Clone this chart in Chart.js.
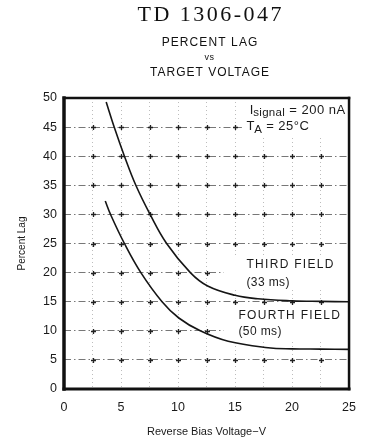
<!DOCTYPE html>
<html>
<head>
<meta charset="utf-8">
<script src="https://cdn.jsdelivr.net/npm/chart.js@4/dist/chart.umd.min.js"></script>
<style>
  html, body { margin: 0; padding: 0; background: #fff; }
  canvas { display: block; }
</style>
</head>
<body>
<canvas id="lag" width="367" height="443"></canvas>
<script>
// Text
const chartTitle = 'TD 1306-047';
const subtitleLines = ['PERCENT LAG', 'vs', 'TARGET VOLTAGE'];
const xAxisTitle = 'Reverse Bias Voltage\u2212V';
const yAxisTitle = 'Percent Lag';

// Percent lag against reverse bias voltage (V), one pair of arrays per field
const thirdFieldVolts  = [3.7, 4.4, 5.3, 6.3, 7.55, 9.0, 11.08, 12.6, 15.0, 17.0, 20.0, 22.5, 25.0];
const thirdFieldLag    = [49.3, 45, 40, 35, 30, 25, 20, 17.7, 16.1, 15.5, 15.15, 15.05, 15.0];
const fourthFieldVolts = [3.62, 4.08, 5.3, 6.74, 8.6, 10.07, 11.95, 14.4, 17.9, 20.0, 22.5, 25.0];
const fourthFieldLag   = [32.3, 30, 25, 20, 15, 12.2, 10, 8.2, 7.1, 6.9, 6.85, 6.8];

// Axis ranges and tick steps
const xRange = [0, 25];
const xGridStep = 2.5;
const xLabelStep = 5;
const yRange = [0, 50];
const yStep = 5;

const toPoints = (xs, ys) => xs.map((x, i) => ({ x, y: ys[i] }));

const SANS = '"Liberation Sans", Arial, sans-serif';

// Draws a run of text pieces (with optional subscript offsets)
function drawRuns(ctx, runs, x, y, align) {
  let total = 0;
  runs.forEach(r => {
    ctx.font = r.size + 'px ' + SANS;
    ctx.letterSpacing = (r.ls || 0) + 'px';
    r.w = ctx.measureText(r.t).width;
    total += r.w;
  });
  let cx = align === 'right' ? x - total : x;
  runs.forEach(r => {
    ctx.font = r.size + 'px ' + SANS;
    ctx.letterSpacing = (r.ls || 0) + 'px';
    ctx.fillText(r.t, cx, y + (r.dy || 0));
    cx += r.w;
  });
  ctx.letterSpacing = '0px';
}

// White panel behind a text block, given in axis units
function clearBox(chart, x0, x1, y0, y1) {
  const { ctx, scales: { x, y } } = chart;
  const l = x.getPixelForValue(x0), r = x.getPixelForValue(x1);
  const t = y.getPixelForValue(y1), b = y.getPixelForValue(y0);
  ctx.fillStyle = '#fff';
  ctx.fillRect(l, t, r - l, b - t);
}

const decorPlugin = {
  id: 'decor',
  beforeDatasetsDraw(chart) {
    const { ctx, scales: { x, y } } = chart;
    ctx.save();
    // "+" marks at interior grid intersections
    ctx.strokeStyle = '#222';
    ctx.lineWidth = 1.3;
    for (let xv = xRange[0] + xGridStep; xv < xRange[1] - 1e-6; xv += xGridStep) {
      for (let yv = yRange[0] + yStep; yv < yRange[1] - 1e-6; yv += yStep) {
        const px = Math.round(x.getPixelForValue(xv)) + 0.5;
        const py = Math.round(y.getPixelForValue(yv)) + 0.5;
        ctx.beginPath();
        ctx.moveTo(px - 2.5, py); ctx.lineTo(px + 2.5, py);
        ctx.moveTo(px, py - 2.5); ctx.lineTo(px, py + 2.5);
        ctx.stroke();
      }
    }
    // Grid is left blank under the text blocks
    clearBox(chart, 15.6, 25, 43.2, 50);
    clearBox(chart, 14.0, 25, 17.1, 23.0);
    clearBox(chart, 14.0, 25, 8.4, 14.3);
    ctx.restore();
  },
  afterDatasetsDraw(chart) {
    const { ctx, chartArea: a, scales: { x, y } } = chart;
    ctx.save();
    // Heavy plot frame
    ctx.strokeStyle = '#111';
    ctx.lineCap = 'square';
    const side = (x1, y1, x2, y2, w) => {
      ctx.lineWidth = w;
      ctx.beginPath(); ctx.moveTo(x1, y1); ctx.lineTo(x2, y2); ctx.stroke();
    };
    side(a.left, a.top, a.left, a.bottom, 3.5);
    side(a.left, a.bottom, a.right, a.bottom, 3);
    side(a.left, a.top, a.right, a.top, 2.5);
    side(a.right, a.top, a.right, a.bottom, 2.5);

    // Curve labels and test conditions
    ctx.fillStyle = '#1a1a1a';
    ctx.textBaseline = 'middle';
    ctx.textAlign = 'left';
    drawRuns(ctx, [{ t: 'THIRD FIELD', size: 12, ls: 1.3 }], x.getPixelForValue(16.0), y.getPixelForValue(21.4), 'left');
    drawRuns(ctx, [{ t: '(33 ms)', size: 12, ls: 0.4 }], x.getPixelForValue(16.0), y.getPixelForValue(18.3), 'left');
    drawRuns(ctx, [{ t: 'FOURTH FIELD', size: 12, ls: 1.3 }], x.getPixelForValue(15.3), y.getPixelForValue(12.6), 'left');
    drawRuns(ctx, [{ t: '(50 ms)', size: 12, ls: 0.4 }], x.getPixelForValue(15.3), y.getPixelForValue(9.8), 'left');

    drawRuns(ctx, [
      { t: 'I', size: 13 },
      { t: 'signal', size: 11.5, dy: 3, ls: 0.3 },
      { t: ' = 200 nA', size: 13, ls: 0.5 }
    ], x.getPixelForValue(24.7), y.getPixelForValue(47.9), 'right');
    drawRuns(ctx, [
      { t: 'T', size: 13 },
      { t: 'A', size: 11.5, dy: 3 },
      { t: ' = 25\u00B0C', size: 13, ls: 0.5 }
    ], x.getPixelForValue(16.0), y.getPixelForValue(45.1), 'left');

    // Headings above the plot
    const cx = (a.left + a.right) / 2 + 3;
    ctx.textAlign = 'center';
    ctx.fillStyle = '#111';
    ctx.font = '22px "Liberation Serif", "DejaVu Serif", serif';
    ctx.letterSpacing = '2.5px';
    ctx.fillText(chartTitle, cx + 1.25, 15);
    ctx.font = '12px ' + SANS;
    ctx.letterSpacing = '1.1px';
    ctx.fillText(subtitleLines[0], cx + 0.5, 43);
    ctx.font = '9px ' + SANS;
    ctx.letterSpacing = '0.5px';
    ctx.fillText(subtitleLines[1], cx, 58);
    ctx.font = '12px ' + SANS;
    ctx.letterSpacing = '1px';
    ctx.fillText(subtitleLines[2], cx + 0.5, 73);
    ctx.restore();
  }
};

new Chart(document.getElementById('lag'), {
  type: 'scatter',
  data: {
    datasets: [
      {
        label: 'THIRD FIELD (33 ms)',
        data: toPoints(thirdFieldVolts, thirdFieldLag),
        showLine: true,
        borderColor: '#151515',
        borderWidth: 1.6,
        pointRadius: 0,
        tension: 0.4
      },
      {
        label: 'FOURTH FIELD (50 ms)',
        data: toPoints(fourthFieldVolts, fourthFieldLag),
        showLine: true,
        borderColor: '#151515',
        borderWidth: 1.6,
        pointRadius: 0,
        tension: 0.4
      }
    ]
  },
  options: {
    responsive: false,
    animation: false,
    events: [],
    layout: { padding: { top: 98, right: 15, left: 0, bottom: 0 } },
    plugins: {
      legend: { display: false },
      tooltip: { enabled: false },
      title: { display: false }
    },
    scales: {
      x: {
        type: 'linear',
        min: xRange[0],
        max: xRange[1],
        afterFit: s => { s.height = 54; },
        afterBuildTicks: s => {
          s.ticks = [];
          for (let v = xRange[0]; v <= xRange[1] + 1e-6; v += xGridStep) s.ticks.push({ value: v });
        },
        ticks: {
          autoSkip: false,
          maxRotation: 0,
          padding: 11,
          color: '#1a1a1a',
          font: { family: SANS, size: 12.5 },
          callback: v => (Math.abs(v % xLabelStep) < 1e-6 ? String(v) : '')
        },
        grid: { color: '#bdbdbd', lineWidth: 1, drawTicks: false },
        border: { display: false, dash: [1, 3] },
        title: {
          display: true,
          text: xAxisTitle,
          color: '#1a1a1a',
          font: { family: SANS, size: 11 },
          padding: { top: 0, bottom: 4 }
        }
      },
      y: {
        type: 'linear',
        min: yRange[0],
        max: yRange[1],
        afterFit: s => { s.width = 64; },
        ticks: {
          stepSize: yStep,
          padding: 7,
          color: '#1a1a1a',
          font: { family: SANS, size: 12.5 }
        },
        grid: { color: '#777', lineWidth: 1, drawTicks: false },
        border: { display: false, dash: [7, 3, 1.5, 3] },
        title: {
          display: true,
          text: yAxisTitle,
          color: '#1a1a1a',
          font: { family: SANS, size: 10 },
          padding: { top: 16, bottom: 0 }
        }
      }
    }
  },
  plugins: [decorPlugin]
});
</script>
</body>
</html>
